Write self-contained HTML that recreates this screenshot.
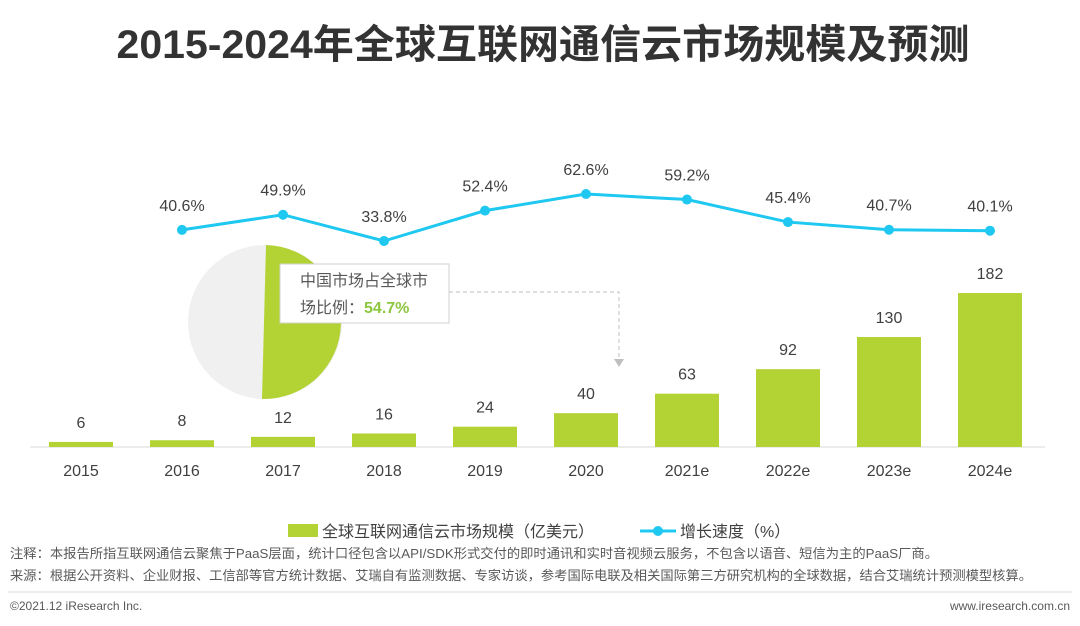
<!DOCTYPE html>
<html><head><meta charset="utf-8"><style>
body{margin:0;background:#fff;font-family:"Liberation Sans","Noto Sans CJK SC",sans-serif}
#wrap{position:relative;width:1080px;height:626px;overflow:hidden}
</style></head><body><div id="wrap">
<svg id="svg" width="1080" height="626" xmlns="http://www.w3.org/2000/svg" font-family="Liberation Sans, Noto Sans CJK SC, sans-serif">
<text x="543" y="58" text-anchor="middle" font-size="40" font-weight="bold" fill="#333" textLength="853" lengthAdjust="spacingAndGlyphs">2015-2024年全球互联网通信云市场规模及预测</text>
<line x1="30" y1="447" x2="1045" y2="447" stroke="#d9d9d9" stroke-width="1"/>
<g id="bars"></g><g id="line"></g>
<g>
<circle cx="265" cy="322" r="77" fill="#f0f0f0"/>
<path d="M266,245 A77,77 0 0 1 262,399 Z" fill="#b3d334"/>
</g>
<g>
<rect x="280" y="264" width="169" height="59" fill="#fff" stroke="#d0d0d0"/>
<text x="364" y="286" text-anchor="middle" font-size="16" fill="#595959">中国市场占全球市</text>
<text x="300" y="313" font-size="16" fill="#595959">场比例：<tspan font-weight="bold" fill="#8dc63f">54.7%</tspan></text>
<polyline points="449,292 619,292 619,360" fill="none" stroke="#bfbfbf" stroke-dasharray="4,3"/>
<polygon points="614,359 624,359 619,367" fill="#bfbfbf"/>
</g>
<g>
<rect x="288" y="524" width="30" height="13" fill="#b3d334"/>
<text x="322" y="537" font-size="16" fill="#404040">全球互联网通信云市场规模（亿美元）</text>
<line x1="640" y1="531" x2="676" y2="531" stroke="#1ec8f0" stroke-width="3"/>
<circle cx="658" cy="531" r="5" fill="#1ec8f0"/>
<text x="680" y="537" font-size="16" fill="#404040">增长速度（%）</text>
</g>
<text x="10" y="558" font-size="13" fill="#595959" textLength="928" lengthAdjust="spacingAndGlyphs">注释：本报告所指互联网通信云聚焦于PaaS层面，统计口径包含以API/SDK形式交付的即时通讯和实时音视频云服务，不包含以语音、短信为主的PaaS厂商。</text>
<text x="10" y="580" font-size="13" fill="#595959" textLength="1022" lengthAdjust="spacingAndGlyphs">来源：根据公开资料、企业财报、工信部等官方统计数据、艾瑞自有监测数据、专家访谈，参考国际电联及相关国际第三方研究机构的全球数据，结合艾瑞统计预测模型核算。</text>
<line x1="8" y1="592" x2="1072" y2="592" stroke="#d9d9d9"/>
<text x="10" y="610" font-size="12" fill="#595959">©2021.12 iResearch Inc.</text>
<text x="1070" y="610" text-anchor="end" font-size="12" fill="#595959">www.iresearch.com.cn</text>
</svg></div>
<script>
const categories=["2015","2016","2017","2018","2019","2020","2021e","2022e","2023e","2024e"];
const marketSize=[6,8,12,16,24,40,63,92,130,182];
const growthRate=[null,40.6,49.9,33.8,52.4,62.6,59.2,45.4,40.7,40.1];
const NS="http://www.w3.org/2000/svg";
const xPos=i=>81+i*101;
const yBar=v=>447-v*0.846;
const yLine=v=>194+(62.6-v)*1.632;
const bars=document.getElementById('bars'),line=document.getElementById('line');
function mk(tag,attrs,parent){const e=document.createElementNS(NS,tag);for(const k in attrs)e.setAttribute(k,attrs[k]);parent.appendChild(e);return e;}
categories.forEach((c,i)=>{
 const r=mk('rect',{x:xPos(i)-32,y:yBar(marketSize[i]),width:64,height:447-yBar(marketSize[i]),fill:'#b3d334'},bars);
 
 
 const t=mk('text',{x:xPos(i),y:yBar(marketSize[i])-14,'text-anchor':'middle','font-size':16,fill:'#404040'},bars);
 t.textContent=marketSize[i];
 
 
 const l=mk('text',{x:xPos(i),y:476,'text-anchor':'middle','font-size':16,fill:'#404040'},bars);
 l.textContent=c;
 
 
});
let pts=[];
growthRate.forEach((v,i)=>{if(v!==null)pts.push(xPos(i)+','+yLine(v));});
const pl=mk('polyline',{points:pts.join(' '),fill:'none',stroke:'#1ec8f0','stroke-width':3},line);


growthRate.forEach((v,i)=>{if(v===null)return;
 const c=mk('circle',{cx:xPos(i),cy:yLine(v),r:5,fill:'#1ec8f0'},line);
 
 
 const t=mk('text',{x:xPos(i),y:yLine(v)-19,'text-anchor':'middle','font-size':16,fill:'#404040'},line);
 t.textContent=v.toFixed(1)+'%';
 
 
});
</script></body></html>
